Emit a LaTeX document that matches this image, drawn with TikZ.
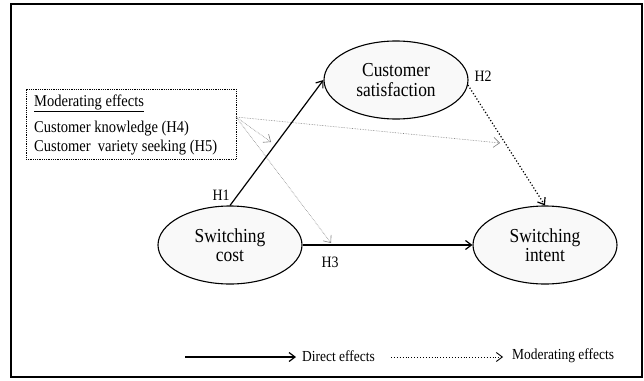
\documentclass[tikz,border=0pt]{standalone}
\usepackage{fontspec}
\setmainfont{Liberation Serif}[FakeStretch=0.88]
\usetikzlibrary{shapes.geometric,arrows.meta}
\begin{document}
\begin{tikzpicture}[x=1pt,y=-1pt,
  construct/.style={draw,ellipse,line width=1.1pt,fill=gray!5,minimum width=144pt,minimum height=78pt,inner sep=0pt,align=center,font=\fontsize{19.8}{19.5}\selectfont},
  direct/.style={line width=1.2pt,-{Straight Barb[length=6pt,width=9pt]}},
  hdot/.style={line width=1.2pt,dotted,-{Straight Barb[length=6pt,width=9pt]}},
  modarrow/.style={gray,line width=0.6pt,densely dotted,-{Straight Barb[length=6pt,width=10pt,line width=0.6pt]}},
  hlab/.style={font=\fontsize{15.8}{17}\selectfont,inner sep=0pt},
  boxtext/.style={anchor=west,inner sep=0pt,font=\fontsize{16.5}{17}\selectfont},
  legtext/.style={font=\fontsize{15.3}{16}\selectfont,inner sep=0pt,anchor=west}]
\useasboundingbox (0,0) rectangle (644,380);
\draw[line width=1.3pt] (11,4) rectangle (642,377);
% constructs
\node[construct] (cs) at (396,80) {Customer\\satisfaction};
\node[construct] (sc) at (230,245) {Switching\\cost};
\node[construct] (si) at (545,245) {Switching\\intent};
% moderating box
\node[draw,densely dotted,line width=0.8pt,minimum width=210pt,minimum height=70pt,inner sep=0pt] (mb) at (131,124) {};
\node[boxtext] (mt) at (34,103) {\underline{Moderating effects}};
\node[boxtext] (m1) at (34,129) {Customer knowledge (H4)};
\node[boxtext] (m2) at (34,148) {Customer\ \ variety seeking (H5)};
\coordinate (mo) at (236,117);
\coordinate (t1) at (271,142);
\coordinate (t2) at (331,243);
\coordinate (t3) at (500,143);
\draw[modarrow] (mo) -- (t1);
\draw[modarrow] (mo) -- (t2);
\draw[modarrow] (mo) -- (t3);
% direct paths
\draw[direct] (sc.north) -- (cs.west);
\draw[direct] (sc.east) -- (si.west);
\draw[hdot] (cs.-4) -- (si.north);
% labels
\node[hlab] (h1) at (221,195) {H1};
\node[hlab] (h2) at (483,76) {H2};
\node[hlab] (h3) at (330,262) {H3};
% legend
\coordinate (l1a) at (185,357);
\coordinate (l1b) at (296,357);
\coordinate (l2a) at (391,357);
\coordinate (l2b) at (503,357);
\draw[direct] (l1a) -- (l1b);
\node[legtext] (lt1) at (302,356) {Direct effects};
\draw[line width=0.9pt,dotted,-{Straight Barb[length=6pt,width=9pt]}] (l2a) -- (l2b);
\node[legtext] (lt2) at (512,356) {Moderating effects};
\end{tikzpicture}
\end{document}
